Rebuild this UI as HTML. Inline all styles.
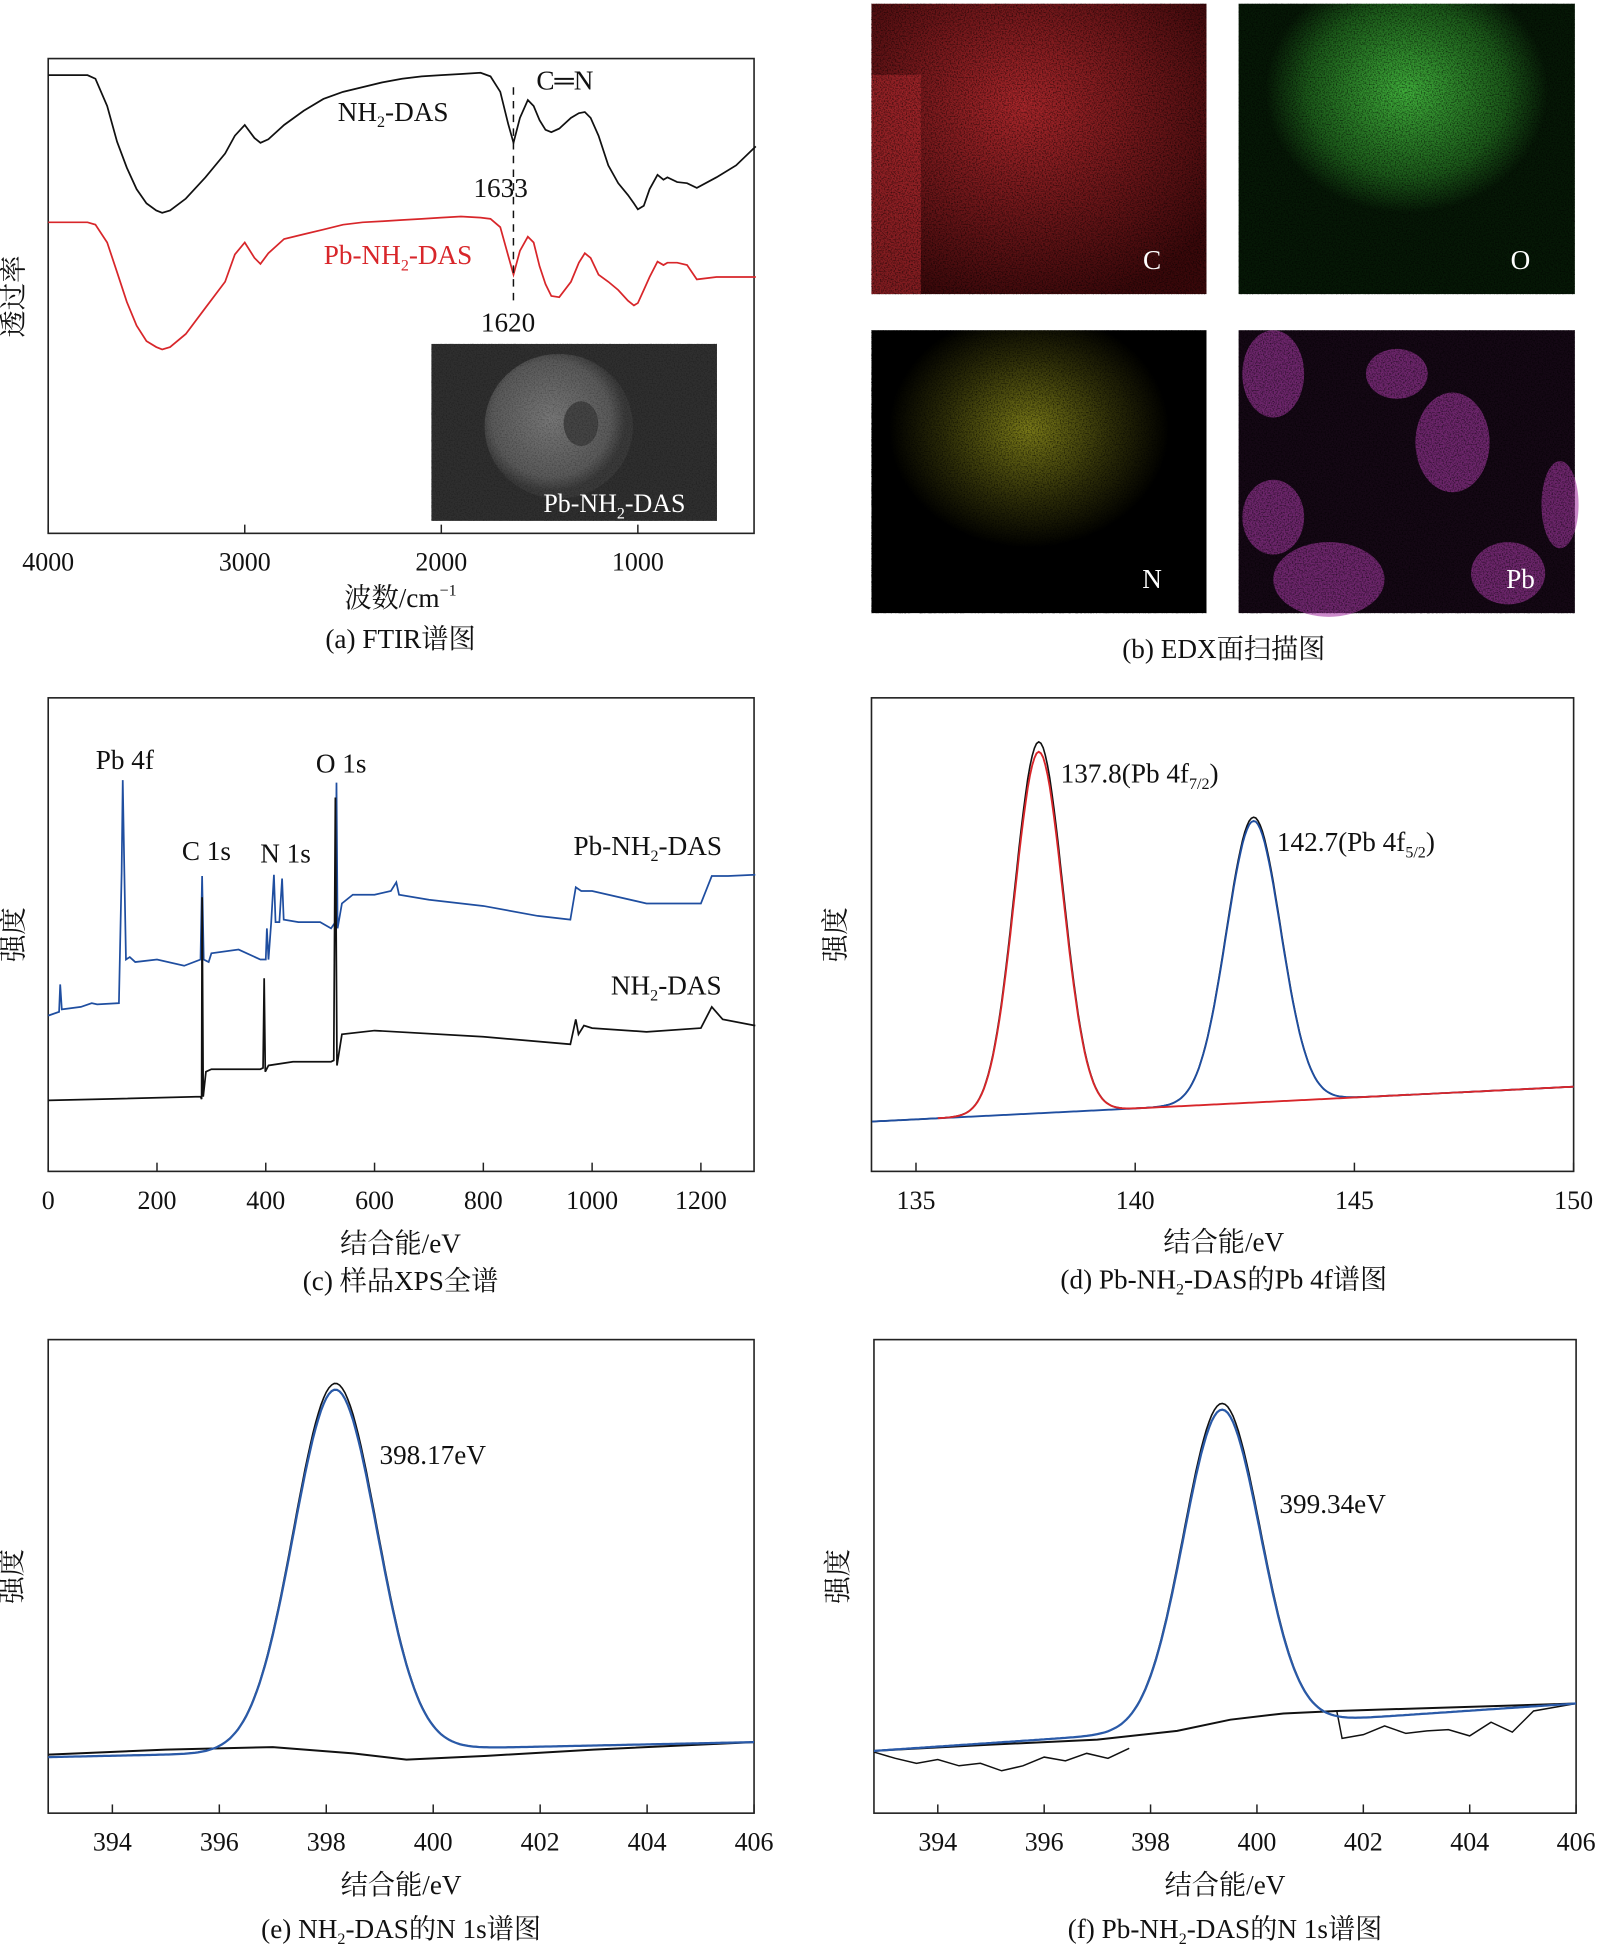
<!DOCTYPE html>
<html><head><meta charset="utf-8"><style>
html,body{margin:0;padding:0;background:#fff;}
svg{display:block;}
text{font-family:"Liberation Serif","Noto Serif CJK SC",serif;}
</style></head><body>
<svg id="fig" width="1607" height="1944" viewBox="0 0 1300 1560" preserveAspectRatio="none" xmlns="http://www.w3.org/2000/svg">
<defs>
<filter id="noise" x="0" y="0" width="100%" height="100%"><feTurbulence type="fractalNoise" baseFrequency="0.9" numOctaves="2" seed="3"/><feColorMatrix type="matrix" values="0 0 0 0 0  0 0 0 0 0  0 0 0 0 0  0 0 0 -2.6 1.5"/></filter>
<radialGradient id="gC" cx="0.45" cy="0.35" r="0.7"><stop offset="0" stop-color="#a8262a"/><stop offset="1" stop-color="#3a080a"/></radialGradient>
<radialGradient id="gO" cx="0.5" cy="0.3" r="0.42"><stop offset="0" stop-color="#3fae3a"/><stop offset="0.7" stop-color="#1c5a1a"/><stop offset="1" stop-color="#061806"/></radialGradient>
<radialGradient id="gN" cx="0.47" cy="0.35" r="0.42"><stop offset="0" stop-color="#7a7a18"/><stop offset="0.6" stop-color="#2d2d08"/><stop offset="1" stop-color="#000"/></radialGradient>
<radialGradient id="gInset" cx="0.45" cy="0.45" r="0.5"><stop offset="0" stop-color="#777"/><stop offset="0.8" stop-color="#5a5a5a"/><stop offset="1" stop-color="#3a3a3a"/></radialGradient>
</defs>
<g id="root"></g>
</svg>
<script>
// ---------- DATA ----------
// (a) FTIR: wavenumber, transmittance (arbitrary units, higher = up)
const ftirX = [4000,3800,3760,3700,3650,3600,3550,3500,3450,3420,3380,3300,3200,3100,3050,3000,2950,2920,2880,2800,2700,2600,2500,2400,2300,2200,2100,2000,1900,1800,1750,1700,1660,1633,1600,1560,1530,1500,1470,1440,1400,1340,1300,1270,1240,1200,1150,1100,1050,1020,1000,970,940,900,870,850,800,750,700,600,500,400];
const ftirBlack = [386,386,383,360,330,308,290,278,272,270,272,282,300,320,335,344,333,329,332,344,356,366,372,376,380,383,385,386,387,388,385,372,345,329,350,365,360,348,340,338,341,350,354,355,350,335,310,295,285,278,273,276,290,302,298,300,296,295,291,300,310,326];
const ftirRed = [262,262,260,245,220,195,175,162,157,155,157,168,190,212,235,245,232,227,236,248,252,256,260,262,263,264,265,266,267,266,265,258,234,218,238,250,245,225,210,200,199,212,228,236,232,218,212,205,196,192,194,205,216,229,226,228,228,226,214,216,216,216];
const ftirTicks = [4000,3000,2000,1000];
// (c) XPS survey: binding energy, intensity
const xpsCX_blue = [0,20,22,25,60,80,90,130,135,137,140,143,150,160,200,250,280,283,286,295,300,350,390,400,402,405,410,415,418,425,430,433,460,500,520,528,530,532,540,560,600,630,640,645,700,800,900,960,970,980,1000,1100,1200,1220,1250,1300];
const xpsCY_blue = [125,128,150,130,132,135,134,135,240,314,240,170,172,168,170,165,170,237,170,168,175,178,170,170,195,170,200,238,200,200,235,202,200,200,195,200,312,195,215,222,222,225,232,222,218,213,205,202,228,225,225,215,215,237,237,238];
const xpsCX_black = [0,100,280,282,283,285,290,300,390,395,397,399,405,450,520,525,528,531,540,600,800,960,970,975,985,1000,1100,1200,1220,1240,1300];
const xpsCY_black = [57,58,60,58,220,60,80,82,82,83,155,80,85,88,88,89,300,85,110,113,108,102,122,110,117,115,112,115,132,122,117];
const xpsTicks = [0,200,400,600,800,1000,1200];
// (d) Pb 4f fit: peak centers, heights, widths; linear background
const pbCenters = [137.8,142.7];
const pbHeights = [290,226];
const pbSigmas = [0.55,0.62];
const pbBackground = [40,68]; // at 134 and 150 eV
const pbTicks = [135,140,145,150];
// (e) N 1s NH2-DAS
const eCenter = [398.17], eHeight = [290], eSigma = [0.78];
const eBackground = [45,57]; // at 392.8 and 406
const eBumpX = [392.8,395,397,398.5,399.5,401,403,406];
const eBumpY = [47,51,53,48,43,46,51,57];
// (f) N 1s Pb-NH2-DAS
const fCenter = [399.34], fHeight = [255], fSigma = [0.72];
const fBackground = [50,88];
const fStepX = [392.8,395,397,398.5,399.5,400.5,401.5,403,406];
const fStepY = [50,55,59,66,75,80,82,84,88];
const fRawX = [392.8,393.2,393.6,394,394.4,394.8,395.2,395.6,396,396.4,396.8,397.2,397.6];
const fRawY = [49,44,40,43,38,40,34,38,45,42,48,44,52];
const fRawX2 = [401.5,401.6,402,402.4,402.8,403.2,403.6,404,404.4,404.8,405.2,405.6,406];
const fRawY2 = [82,60,63,70,64,66,67,62,73,65,82,85,88];
const nTicks = [394,396,398,400,402,404,406];

// ---------- HELPERS ----------
const NS="http://www.w3.org/2000/svg";
const root=document.getElementById('root');
function el(tag,attrs,parent){const e=document.createElementNS(NS,tag);for(const k in attrs)e.setAttribute(k,attrs[k]);(parent||root).appendChild(e);return e;}
function txt(x,y,s,size,anchor,parent,fill){const t=el('text',{x:x,y:y,'font-size':size,'text-anchor':anchor||'middle'},parent);t.style.fill=fill||'#111';t.innerHTML=s;return t;}
function linScale(d0,d1,r0,r1){return v=>r0+(v-d0)/(d1-d0)*(r1-r0);}
function pathFrom(xs,ys,sx,sy){return xs.map((x,i)=>(i?'L':'M')+sx(x).toFixed(1)+','+sy(ys[i]).toFixed(1)).join('');}
function axesBox(g,x0,y0,x1,y1){const r=el('rect',{x:x0,y:y0,width:x1-x0,height:y1-y0,fill:'none',stroke:'#222','stroke-width':1.3},g);}
function xTicks(g,ticks,sx,y1,ty){ticks.forEach(t=>{const l=el('line',{x1:sx(t),x2:sx(t),y1:y1,y2:y1-7,stroke:'#222','stroke-width':1.2},g);const tt=txt(sx(t),ty,t,21,'middle',g);});}
function gaussSum(x,c,h,s){let v=0;for(let i=0;i<c.length;i++)v+=h[i]*Math.exp(-0.5*Math.pow((x-c[i])/s[i],2));return v;}
function interp(xs,ys,x){for(let i=0;i<xs.length-1;i++){if(x>=xs[i]&&x<=xs[i+1]){return ys[i]+(ys[i+1]-ys[i])*(x-xs[i])/(xs[i+1]-xs[i]);}}return ys[ys.length-1];}
function ylabel(g,x,y,s){const t=txt(0,0,s,22,'middle',g);t.setAttribute('transform','translate('+x+','+y+') rotate(-90)');return t;}
function label(g,x,y,s,size,name,anchor,fill){const t=txt(x,y,s,size,anchor,g,fill);return t;}

// ---------- (a) FTIR ----------
(function(){
const g=el('g',{});
const sx=linScale(4000,1000,39,516), sy=linScale(0,400,428,47);
axesBox(g,39,47,610,428);
xTicks(g,ftirTicks,sx,428,458);
const pb=el('path',{d:pathFrom(ftirX,ftirBlack,sx,sy),fill:'none',stroke:'#111','stroke-width':1.4},g);

const pr=el('path',{d:pathFrom(ftirX,ftirRed,sx,sy),fill:'none',stroke:'#d8262a','stroke-width':1.4},g);

const dl=el('line',{x1:sx(1633),x2:sx(1633),y1:70,y2:245,stroke:'#111','stroke-width':1.2,'stroke-dasharray':'6,5'},g);

label(g,318,97,'NH<tspan font-size="13" dy="5">2</tspan><tspan dy="-5">-DAS</tspan>',22,'nh2-das-label');
label(g,322,212,'Pb-NH<tspan font-size="13" dy="5">2</tspan><tspan dy="-5">-DAS</tspan>',22,'pb-nh2-das-label','middle','#d8262a');
label(g,457,72,'C═N',22,'c-n-label');
label(g,405,158,'1633',22,'peak-1633-label');
label(g,411,266,'1620',22,'peak-1620-label');
const ig=el('g',{},g);
el('rect',{x:349,y:276,width:231,height:142,fill:'#2f2f2f'},ig);
el('ellipse',{cx:452,cy:342,rx:60,ry:58,fill:'url(#gInset)'},ig);
el('ellipse',{cx:470,cy:340,rx:14,ry:18,fill:'#444'},ig);
el('rect',{x:349,y:276,width:231,height:142,filter:'url(#noise)',opacity:0.25},ig);
label(ig,497,411,'Pb-NH<tspan font-size="13" dy="5">2</tspan><tspan dy="-5">-DAS</tspan>',21,'inset-label','middle','#fff');
ylabel(g,18,238,'透过率');
label(g,324,487,'波数/cm<tspan font-size="13" dy="-9">−1</tspan>',22,'x-axis-title');
label(g,324,520,'(a) FTIR谱图',22,'panel-a-caption');
})();

// ---------- (b) EDX ----------
(function(){
const g=el('g',{});
const maps=[[705,3,271,233,'url(#gC)','C','edx-map-c'],[1002,3,272,233,'url(#gO)','O','edx-map-o'],[705,265,271,227,'url(#gN)','N','edx-map-n'],[1002,265,272,227,'#150815','Pb','edx-map-pb']];
maps.forEach(m=>{const mg=el('g',{},g);
el('rect',{x:m[0],y:m[1],width:m[2],height:m[3],fill:m[4]},mg);
if(m[5]==='C'){el('rect',{x:705,y:60,width:40,height:176,fill:'#b02a2e',opacity:0.6},mg);}
if(m[5]==='Pb'){[[1030,300,25,35],[1175,355,30,40],[1030,415,25,30],[1075,465,45,30],[1262,405,15,35],[1130,300,25,20],[1220,460,30,25]].forEach(b=>el('ellipse',{cx:b[0],cy:b[1],rx:b[2],ry:b[3],fill:'#a93aa7',opacity:0.6},mg));}
el('rect',{x:m[0],y:m[1],width:m[2],height:m[3],filter:'url(#noise)',opacity:0.6},mg);
label(mg,m[0]+m[2]-44,m[1]+m[3]-20,m[5],22,'edx-label-'+m[5].toLowerCase(),'middle','#fff');});
label(g,990,528,'(b) EDX面扫描图',22,'panel-b-caption');
})();

// ---------- (c) XPS survey ----------
(function(){
const g=el('g',{});
const sx=linScale(0,1200,39,567), sy=linScale(0,380,940,560);
axesBox(g,39,560,610,940);
xTicks(g,xpsTicks,sx,940,970);
const pb=el('path',{d:pathFrom(xpsCX_blue,xpsCY_blue,sx,sy),fill:'none',stroke:'#1f4ea0','stroke-width':1.4},g);

const pk=el('path',{d:pathFrom(xpsCX_black,xpsCY_black,sx,sy),fill:'none',stroke:'#111','stroke-width':1.4},g);

label(g,101,617,'Pb 4f',22,'pb-4f-label');
label(g,167,690,'C 1s',22,'c-1s-label');
label(g,231,692,'N 1s',22,'n-1s-label');
label(g,276,620,'O 1s',22,'o-1s-label');
label(g,524,686,'Pb-NH<tspan font-size="13" dy="5">2</tspan><tspan dy="-5">-DAS</tspan>',22,'pb-nh2-das-label');
label(g,539,798,'NH<tspan font-size="13" dy="5">2</tspan><tspan dy="-5">-DAS</tspan>',22,'nh2-das-label');
ylabel(g,18,750,'强度');
label(g,324,1005,'结合能/eV',22,'x-axis-title');
label(g,324,1035,'(c) 样品XPS全谱',22,'panel-c-caption');
})();

// ---------- (d) Pb 4f ----------
(function(){
const g=el('g',{});
const sx=linScale(135,150,741,1273), sy=linScale(0,380,940,560);
axesBox(g,705,560,1273,940);
xTicks(g,pbTicks,sx,940,970);
const bg=x=>pbBackground[0]+(pbBackground[1]-pbBackground[0])*(x-134)/16;
const xs=[];for(let x=134;x<=150.001;x+=0.05)xs.push(x);
const raw=xs.map(x=>bg(x)+gaussSum(x,pbCenters,[pbHeights[0]+8,pbHeights[1]+3],pbSigmas));
const p0=el('path',{d:pathFrom(xs,raw,sx,sy),fill:'none',stroke:'#111','stroke-width':1.3},g);

const fb=el('path',{d:pathFrom(xs,xs.map(x=>bg(x)+gaussSum(x,[pbCenters[1]],[pbHeights[1]],[pbSigmas[1]])),sx,sy),fill:'none',stroke:'#1f4ea0','stroke-width':1.5},g);

const xr=xs.filter(x=>x>=135.5);
const fr=el('path',{d:pathFrom(xr,xr.map(x=>bg(x)+gaussSum(x,[pbCenters[0]],[pbHeights[0]],[pbSigmas[0]])),sx,sy),fill:'none',stroke:'#d8262a','stroke-width':1.5},g);

label(g,858,628,'137.8(Pb 4f<tspan font-size="13" dy="5">7/2</tspan><tspan dy="-5">)</tspan>',22,'peak-137-label','start');
label(g,1033,683,'142.7(Pb 4f<tspan font-size="13" dy="5">5/2</tspan><tspan dy="-5">)</tspan>',22,'peak-142-label','start');
ylabel(g,683,750,'强度');
label(g,990,1004,'结合能/eV',22,'x-axis-title');
label(g,990,1034,'(d) Pb-NH<tspan font-size="13" dy="5">2</tspan><tspan dy="-5">-DAS的Pb 4f谱图</tspan>',22,'panel-d-caption');
})();

// ---------- (e),(f) N 1s ----------
function nPanel(opt){
const g=el('g',{});
const sx=linScale(392.8,406,opt.x0,opt.x1), sy=linScale(0,380,opt.y1,opt.y1-380);
axesBox(g,opt.x0,opt.y1-380,opt.x1,opt.y1);
xTicks(g,nTicks,sx,opt.y1,opt.y1+30);
const bg=x=>opt.bgArr[0]+(opt.bgArr[1]-opt.bgArr[0])*(x-392.8)/13.2;
const xs=[];for(let x=392.8;x<=406.001;x+=0.05)xs.push(x);
const peakX=xs.filter(x=>x>=opt.rawFrom&&x<=opt.rawTo);
const rawPeak=peakX.map(x=>bg(x)+gaussSum(x,opt.c,[opt.h[0]+5],opt.s));
const rp=el('path',{d:pathFrom(peakX,rawPeak,sx,sy),fill:'none',stroke:'#111','stroke-width':1.3},g);

if(opt.rawX){const rr=el('path',{d:pathFrom(opt.rawX,opt.rawY,sx,sy),fill:'none',stroke:'#111','stroke-width':1.2},g);
const r2=el('path',{d:pathFrom(opt.rawX2,opt.rawY2,sx,sy),fill:'none',stroke:'#111','stroke-width':1.2},g);}
const st=el('path',{d:pathFrom(opt.stepX,opt.stepY,sx,sy),fill:'none',stroke:'#111','stroke-width':1.6},g);

const fit=el('path',{d:pathFrom(xs,xs.map(x=>bg(x)+gaussSum(x,opt.c,opt.h,opt.s)),sx,sy),fill:'none',stroke:'#2a5aa8','stroke-width':1.8},g);

label(g,opt.lx,opt.ly,opt.peakLabel,22,'peak-label','start');
ylabel(g,opt.x0-22,1265,'强度');
label(g,(opt.x0+opt.x1)/2,opt.y1+65,'结合能/eV',22,'x-axis-title');
label(g,(opt.x0+opt.x1)/2,opt.y1+100,opt.caption,22,'caption');
}
nPanel({name:'nh2-das-n1s-panel',x0:39,x1:610,y1:1455,c:eCenter,h:eHeight,s:eSigma,bgArr:eBackground,stepX:eBumpX,stepY:eBumpY,rawFrom:392.8,rawTo:406,lx:307,ly:1175,peakLabel:'398.17eV',caption:'(e) NH<tspan font-size="13" dy="5">2</tspan><tspan dy="-5">-DAS的N 1s谱图</tspan>'});
nPanel({name:'pb-nh2-das-n1s-panel',x0:707,x1:1275,y1:1455,c:fCenter,h:fHeight,s:fSigma,bgArr:fBackground,stepX:fStepX,stepY:fStepY,rawX:fRawX,rawY:fRawY,rawX2:fRawX2,rawY2:fRawY2,rawFrom:397.6,rawTo:401.5,lx:1035,ly:1214,peakLabel:'399.34eV',caption:'(f) Pb-NH<tspan font-size="13" dy="5">2</tspan><tspan dy="-5">-DAS的N 1s谱图</tspan>'});
</script>
</body></html>
